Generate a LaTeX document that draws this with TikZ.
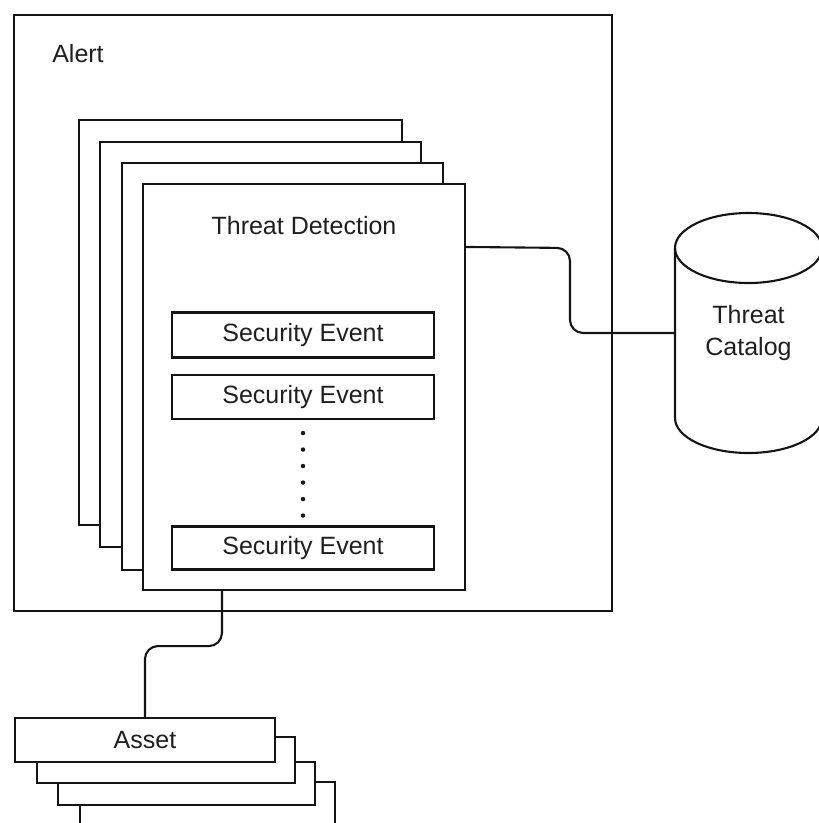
\documentclass[tikz,border=0pt]{standalone}
\usepackage{fontspec}
\setmainfont{Liberation Sans}
\usetikzlibrary{calc}
\begin{document}
\begin{tikzpicture}[x=1pt,y=-1pt,
  ink/.style={draw=black!92, line width=2.1pt},
  sheet/.style={ink, fill=white, rectangle, inner sep=0pt},
  lbl/.style={font=\fontsize{25}{32}\selectfont, text=black!88, inner sep=0pt, align=center},
  wire/.style={ink, rounded corners=13pt},
  dotline/.style={draw=black!90, line width=4.5pt, line cap=round, dash pattern=on 0pt off 16.5pt}]
\useasboundingbox (0,0) rectangle (819,823);
\clip (0,0) rectangle (819,823);
\fill[white] (0,0) rectangle (819,823);
% Alert container
\node[sheet, minimum width=598pt, minimum height=596pt] (alert) at (313,313) {};
\node[lbl] (alertlbl) at (78,54) {Alert};
% stacked threat detection pages
\node[sheet, minimum width=323pt, minimum height=405pt] (p1) at (240.5,322.5) {};
\node[sheet, minimum width=321pt, minimum height=405pt] (p2) at (260.5,344.5) {};
\node[sheet, minimum width=321pt, minimum height=407pt] (p3) at (282.5,366.5) {};
\node[sheet, minimum width=322pt, minimum height=406pt] (p4) at (304,387) {};
\node[lbl] (td) at (304,226) {Threat Detection};
% security events
\node[sheet, minimum width=262pt, minimum height=45pt, font=\fontsize{25}{32}\selectfont, text=black!88] (e1) at (303,335) {Security Event};
\node[sheet, minimum width=262pt, minimum height=44pt, font=\fontsize{25}{32}\selectfont, text=black!88] (e2) at (303,397) {Security Event};
\node[sheet, minimum width=262pt, minimum height=43pt, font=\fontsize{25}{32}\selectfont, text=black!88] (e3) at (303,548) {Security Event};
\draw[dotline] ([yshift=-13pt]e2.south) -- (e3.north);
% threat catalog cylinder
\node[lbl, minimum width=147pt, minimum height=240pt] (catalog) at (748.5,333) {Threat\\Catalog};
\draw[ink] (675,248) -- (675,418) arc[start angle=180, end angle=0, x radius=73.5, y radius=35] -- (822,248);
\draw[ink] (748.5,248) ellipse [x radius=73.5, y radius=35];
% connector detection -> catalog
\draw[wire] ([yshift=-64pt]p4.north east) -- (570,248) -- (570,333) -- (catalog.west);
% asset stack
\node[sheet, minimum width=255pt, minimum height=48pt] (a4) at (207.5,806) {};
\node[sheet, minimum width=257pt, minimum height=43pt] (a3) at (186.5,783.5) {};
\node[sheet, minimum width=258pt, minimum height=46pt] (a2) at (166,760) {};
\node[sheet, minimum width=260pt, minimum height=44pt, font=\fontsize{25}{32}\selectfont, text=black!88] (a1) at (145,740) {Asset};
% connector detection -> asset
\draw[wire] ([xshift=80pt]p4.south west) -- ++(0,55) -| (a1.north);
\end{tikzpicture}
\end{document}
